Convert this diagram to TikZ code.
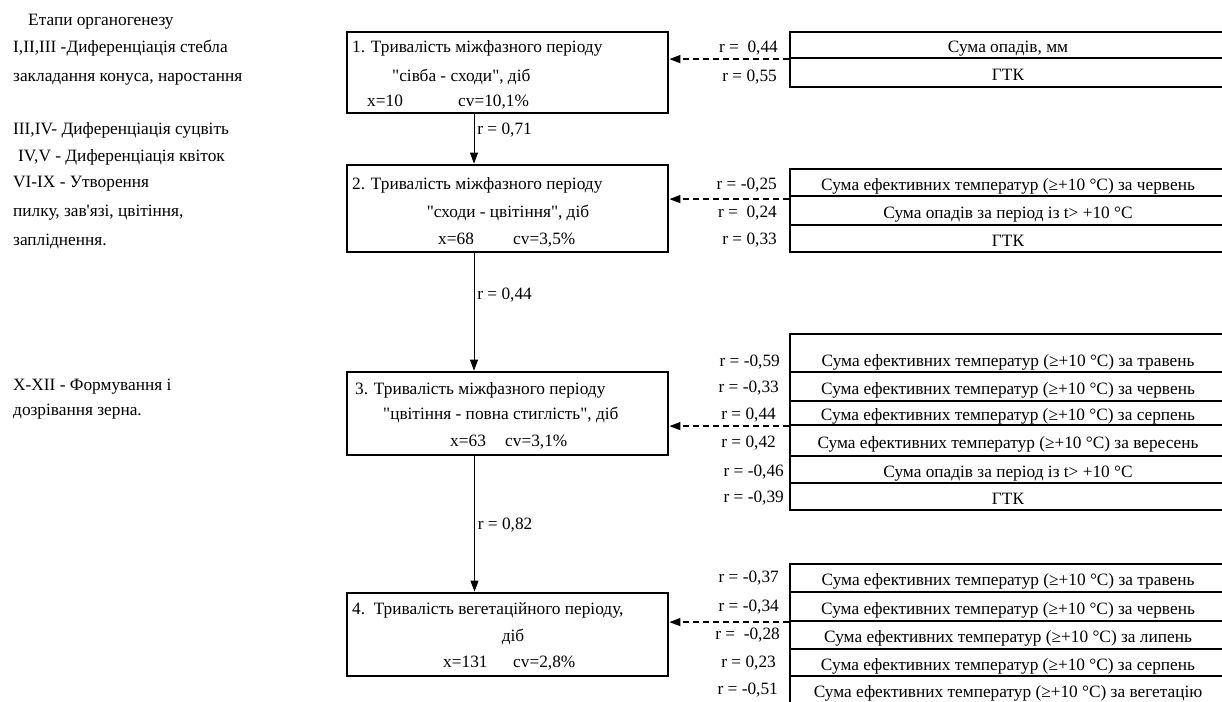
\documentclass[tikz,border=0pt]{standalone}
\usepackage{fontspec}
\setmainfont{Liberation Serif}[Ligatures=TeXOff]
\usetikzlibrary{arrows.meta}
\begin{document}
\begin{tikzpicture}[x=1pt,y=-1pt,
  txt/.style={inner sep=0pt, font=\fontsize{17.3}{20}\selectfont, yshift=-2pt},
  mainbox/.style={draw, line width=2.8pt, inner sep=0pt},
  rowbox/.style={draw, line width=2.2pt, inner sep=0pt, minimum width=436pt,
    font=\fontsize{17.3}{20}\selectfont, text height=15pt, text depth=0pt},
  rlab/.style={txt, anchor=mid east},
  flow/.style={-{Triangle[length=11pt,width=8pt]}, line width=0.8pt},
  infl/.style={-{Triangle[length=11pt,width=8pt]}, line width=1.5pt, dash pattern=on 6pt off 4pt}
]
\useasboundingbox (0,0) rectangle (1222,701);
\clip (0,0) rectangle (1222,701);
\fill[white] (0,0) rectangle (1222,701);

% left column
\node[txt, anchor=mid west] (s0) at (28,21) {Етапи органогенезу};
\node[txt, anchor=mid west] (s1) at (13,48) {I,II,III -Диференціація стебла};
\node[txt, anchor=mid west] (s2) at (13,77) {закладання конуса, наростання};
\node[txt, anchor=mid west] (s3) at (13,130) {III,IV- Диференціація суцвіть};
\node[txt, anchor=mid west] (s4) at (18,157) {IV,V - Диференціація квіток};
\node[txt, anchor=mid west] (s5) at (13,183) {VI-IX - Утворення};
\node[txt, anchor=mid west] (s6) at (13,212) {пилку, зав'язі, цвітіння,};
\node[txt, anchor=mid west] (s7) at (13,241) {запліднення.};
\node[txt, anchor=mid west] (s8) at (13,386) {X-XII - Формування і};
\node[txt, anchor=mid west] (s9) at (13,411) {дозрівання зерна.};

% main boxes
\node[mainbox, minimum width=321pt, minimum height=81pt] (b1) at (507.5,72.5) {};
\node[mainbox, minimum width=321pt, minimum height=87pt] (b2) at (507.5,208.5) {};
\node[mainbox, minimum width=321pt, minimum height=83pt] (b3) at (507.5,413.5) {};
\node[mainbox, minimum width=321pt, minimum height=83pt] (b4) at (507.5,634.5) {};

\node[txt, anchor=mid west] (b1l1) at (352,48) {1. Тривалість міжфазного періоду};
\node[txt, anchor=mid west] (b1l2) at (392,77) {"сівба - сходи", діб};
\node[txt, anchor=mid west] (b1l3) at (367,102) {x=10};
\node[txt, anchor=mid west] (b1l4) at (458,102) {cv=10,1\%};

\node[txt, anchor=mid west] (b2l1) at (352,185) {2. Тривалість міжфазного періоду};
\node[txt, anchor=mid] (b2l2) at (508,213) {"сходи - цвітіння", діб};
\node[txt, anchor=mid west] (b2l3) at (438,240) {x=68};
\node[txt, anchor=mid west] (b2l4) at (513,240) {cv=3,5\%};

\node[txt, anchor=mid west] (b3l1) at (355,390) {3. Тривалість міжфазного періоду};
\node[txt, anchor=mid west] (b3l2) at (383,415) {"цвітіння - повна стиглість", діб};
\node[txt, anchor=mid west] (b3l3) at (450,442) {x=63};
\node[txt, anchor=mid west] (b3l4) at (505,442) {cv=3,1\%};

\node[txt, anchor=mid west] (b4l1) at (352,610) {4.\ \ Тривалість вегетаційного періоду,};
\node[txt, anchor=mid] (b4l2) at (513,637) {діб};
\node[txt, anchor=mid west] (b4l3) at (443,663) {x=131};
\node[txt, anchor=mid west] (b4l4) at (513,663) {cv=2,8\%};

% flow arrows
\draw[flow] ([xshift=-33.5pt]b1.south) -- ([xshift=-33.5pt]b2.north)
  node[txt, pos=0.33, anchor=mid west, xshift=3pt] (r12) {r = 0,71};
\draw[flow] ([xshift=-33.5pt]b2.south) -- ([xshift=-33.5pt]b3.north)
  node[txt, pos=0.36, anchor=mid west, xshift=3pt] (r23) {r = 0,44};
\draw[flow] ([xshift=-33pt]b3.south) -- ([xshift=-33pt]b4.north)
  node[txt, pos=0.51, anchor=mid west, xshift=3pt] (r34) {r = 0,82};

% group 1
\node[rowbox, minimum height=26pt] (g1a) at (1008,45) {Сума опадів, мм};
\node[rowbox, minimum height=29pt] (g1b) at (1008,72.5) {ГТК};
\node[rlab] (q1a) at (778,48) {r =\ \ 0,44};
\node[rlab] (q1b) at (777,77) {r = 0,55};

% group 2
\node[rowbox, minimum height=27pt] (g2a) at (1008,182.5) {Сума ефективних температур (≥+10 °C) за червень};
\node[rowbox, minimum height=29pt] (g2b) at (1008,210.5) {Сума опадів за період із t> +10 °C};
\node[rowbox, minimum height=27pt] (g2c) at (1008,238.5) {ГТК};
\node[rlab] (q2a) at (777,185) {r = -0,25};
\node[rlab] (q2b) at (777,213) {r =\ \ 0,24};
\node[rlab] (q2c) at (777,240) {r = 0,33};

% group 3
\node[rowbox, minimum height=38pt] (g3a) at (1008,353) {};
\node[txt, anchor=mid] (g3at) at (1008,362) {Сума ефективних температур (≥+10 °C) за травень};
\node[rowbox, minimum height=29pt] (g3b) at (1008,386.5) {Сума ефективних температур (≥+10 °C) за червень};
\node[rowbox, minimum height=24pt] (g3c) at (1008,413) {Сума ефективних температур (≥+10 °C) за серпень};
\node[rowbox, minimum height=31pt] (g3d) at (1008,440.5) {Сума ефективних температур (≥+10 °C) за вересень};
\node[rowbox, minimum height=27pt] (g3e) at (1008,469.5) {Сума опадів за період із t> +10 °C};
\node[rowbox, minimum height=27pt] (g3f) at (1008,496.5) {ГТК};
\node[rlab] (q3a) at (780,362) {r = -0,59};
\node[rlab] (q3b) at (779,388) {r = -0,33};
\node[rlab] (q3c) at (776,415) {r = 0,44};
\node[rlab] (q3d) at (776,443) {r = 0,42};
\node[rlab] (q3e) at (784,472) {r = -0,46};
\node[rlab] (q3f) at (784,498) {r = -0,39};

% group 4
\node[rowbox, minimum height=28pt] (g4a) at (1008,578) {Сума ефективних температур (≥+10 °C) за травень};
\node[rowbox, minimum height=29pt] (g4b) at (1008,606.5) {Сума ефективних температур (≥+10 °C) за червень};
\node[rowbox, minimum height=28pt] (g4c) at (1008,635) {Сума ефективних температур (≥+10 °C) за липень};
\node[rowbox, minimum height=27pt] (g4d) at (1008,662.5) {Сума ефективних температур (≥+10 °C) за серпень};
\node[rowbox, minimum height=28pt] (g4e) at (1008,690) {Сума ефективних температур (≥+10 °C) за вегетацію};
\node[rlab] (q4a) at (779,578) {r = -0,37};
\node[rlab] (q4b) at (779,607) {r = -0,34};
\node[rlab] (q4c) at (780,635) {r =\ \ -0,28};
\node[rlab] (q4d) at (776,663) {r = 0,23};
\node[rlab] (q4e) at (778,690) {r = -0,51};

% influence arrows
\coordinate (c2) at ([yshift=-2pt]g2a.south west);
\draw[infl] (g1a.south west) -- (b1.east |- g1a.south west);
\draw[infl] (c2) -- (b2.east |- c2);
\draw[infl] (g3c.south west) -- (b3.east |- g3c.south west);
\draw[infl] (g4b.south west) -- (b4.east |- g4b.south west);
\end{tikzpicture}
\end{document}
